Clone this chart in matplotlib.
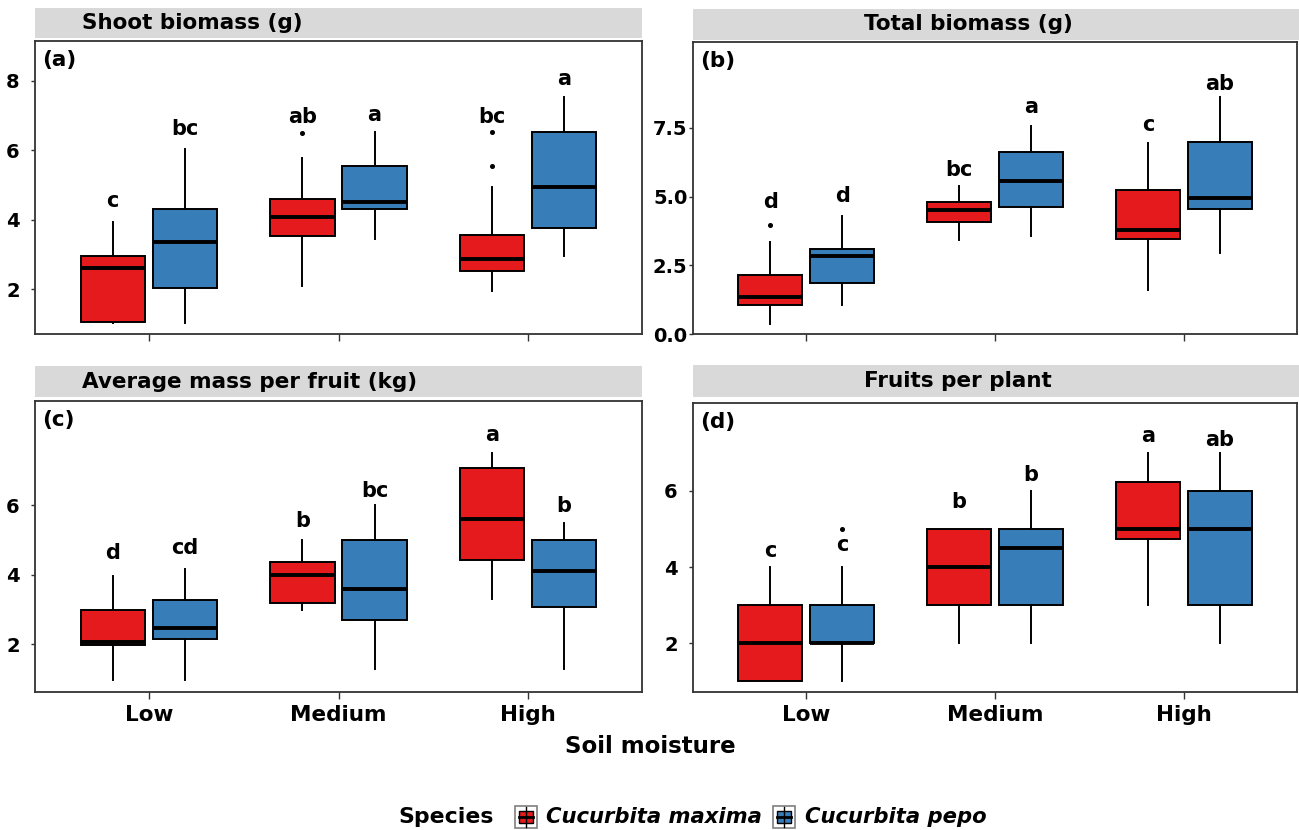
import matplotlib
matplotlib.use('Agg')
import matplotlib.pyplot as plt
from matplotlib.patches import Rectangle
from matplotlib.lines import Line2D

plt.rcParams['font.family'] = ['DejaVu Sans']
plt.rcParams['font.weight'] = 'bold'

# ---------------- data ----------------
categories = ['Low', 'Medium', 'High']
species = ['Cucurbita maxima', 'Cucurbita pepo']
colors = ['#E41A1C', '#377EB8']

# (a) Shoot biomass (g)
a_max_whislo = [1.01, 2.09, 1.95]
a_max_q1 = [1.05, 3.52, 2.52]
a_max_med = [2.60, 4.08, 2.86]
a_max_q3 = [2.95, 4.58, 3.56]
a_max_whishi = [3.92, 5.78, 4.94]
a_max_fliers = [[], [6.50], [5.54, 6.53]]
a_pepo_whislo = [1.01, 3.43, 2.95]
a_pepo_q1 = [2.03, 4.30, 3.76]
a_pepo_med = [3.34, 4.51, 4.94]
a_pepo_q3 = [4.29, 5.53, 6.52]
a_pepo_whishi = [6.03, 6.52, 7.52]
a_pepo_fliers = [[], [], []]
a_max_letters = ['c', 'ab', 'bc']
a_pepo_letters = ['bc', 'a', 'a']
a_max_letter_y = [4.37, 6.79, 6.77]
a_pepo_letter_y = [6.43, 6.84, 7.87]

# (b) Total biomass (g)
b_max_whislo = [0.37, 3.43, 1.59]
b_max_q1 = [1.06, 4.09, 3.46]
b_max_med = [1.33, 4.52, 3.80]
b_max_q3 = [2.15, 4.82, 5.25]
b_max_whishi = [3.34, 5.40, 6.95]
b_max_fliers = [[3.98], [], []]
b_pepo_whislo = [1.06, 3.55, 2.95]
b_pepo_q1 = [1.86, 4.61, 4.55]
b_pepo_med = [2.85, 5.56, 4.94]
b_pepo_q3 = [3.08, 6.62, 6.98]
b_pepo_whishi = [4.28, 7.56, 8.63]
b_pepo_fliers = [[], [], []]
b_max_letters = ['d', 'bc', 'c']
b_pepo_letters = ['d', 'a', 'ab']
b_max_letter_y = [4.57, 5.75, 7.39]
b_pepo_letter_y = [4.82, 8.06, 8.88]

# (c) Average mass per fruit (kg)
c_max_whislo = [0.98, 2.99, 3.30]
c_max_q1 = [1.98, 3.18, 4.44]
c_max_med = [2.08, 4.00, 5.61]
c_max_q3 = [2.99, 4.38, 7.06]
c_max_whishi = [3.97, 4.99, 7.50]
c_max_fliers = [[], [], []]
c_pepo_whislo = [0.98, 1.29, 1.29]
c_pepo_q1 = [2.15, 2.69, 3.07]
c_pepo_med = [2.47, 3.59, 4.10]
c_pepo_q3 = [3.28, 5.00, 5.00]
c_pepo_whishi = [4.17, 6.00, 5.50]
c_pepo_fliers = [[], [], []]
c_max_letters = ['d', 'b', 'a']
c_pepo_letters = ['cd', 'bc', 'b']
c_max_letter_y = [4.45, 5.37, 7.84]
c_pepo_letter_y = [4.60, 6.24, 5.82]

# (d) Fruits per plant
d_max_whislo = [1.0, 2.0, 3.0]
d_max_q1 = [1.0, 3.0, 4.74]
d_max_med = [2.0, 4.0, 5.0]
d_max_q3 = [3.0, 5.0, 6.23]
d_max_whishi = [4.0, 5.0, 7.0]
d_max_fliers = [[], [], []]
d_pepo_whislo = [1.0, 2.0, 2.0]
d_pepo_q1 = [2.0, 3.0, 3.0]
d_pepo_med = [2.0, 4.5, 5.0]
d_pepo_q3 = [3.0, 5.0, 6.0]
d_pepo_whishi = [4.0, 6.0, 7.0]
d_pepo_fliers = [[5.0], [], []]
d_max_letters = ['c', 'b', 'a']
d_pepo_letters = ['c', 'b', 'ab']
d_max_letter_y = [4.26, 5.55, 7.28]
d_pepo_letter_y = [4.42, 6.25, 7.19]

titles = ['Shoot biomass (g)', 'Total biomass (g)',
          'Average mass per fruit (kg)', 'Fruits per plant']
panel_tags = ['(a)', '(b)', '(c)', '(d)']
y_ticks = [[2, 4, 6, 8], [0.0, 2.5, 5.0, 7.5], [2, 4, 6], [2, 4, 6]]
y_ticklabels = [['2', '4', '6', '8'], ['0.0', '2.5', '5.0', '7.5'],
                ['2', '4', '6'], ['2', '4', '6']]
y_limits = [(0.705, 9.14), (0.0, 10.63), (0.63, 9.0), (0.72, 8.31)]
x_label = 'Soil moisture'
legend_title = 'Species'

panels = [
    (a_max_whislo, a_max_q1, a_max_med, a_max_q3, a_max_whishi, a_max_fliers,
     a_pepo_whislo, a_pepo_q1, a_pepo_med, a_pepo_q3, a_pepo_whishi, a_pepo_fliers,
     a_max_letters, a_pepo_letters, a_max_letter_y, a_pepo_letter_y),
    (b_max_whislo, b_max_q1, b_max_med, b_max_q3, b_max_whishi, b_max_fliers,
     b_pepo_whislo, b_pepo_q1, b_pepo_med, b_pepo_q3, b_pepo_whishi, b_pepo_fliers,
     b_max_letters, b_pepo_letters, b_max_letter_y, b_pepo_letter_y),
    (c_max_whislo, c_max_q1, c_max_med, c_max_q3, c_max_whishi, c_max_fliers,
     c_pepo_whislo, c_pepo_q1, c_pepo_med, c_pepo_q3, c_pepo_whishi, c_pepo_fliers,
     c_max_letters, c_pepo_letters, c_max_letter_y, c_pepo_letter_y),
    (d_max_whislo, d_max_q1, d_max_med, d_max_q3, d_max_whishi, d_max_fliers,
     d_pepo_whislo, d_pepo_q1, d_pepo_med, d_pepo_q3, d_pepo_whishi, d_pepo_fliers,
     d_max_letters, d_pepo_letters, d_max_letter_y, d_pepo_letter_y),
]

# ---------------- layout (pixels) ----------------
W, H = 1299, 830
fig = plt.figure(figsize=(W / 100, H / 100), dpi=100)
fig.patch.set_facecolor('white')


def fx(x):
    return x / W


def fy(y):
    return 1 - y / H


# axes boxes: left, top, right, bottom in pixels
ax_px = [(35, 41, 642, 334), (693, 42, 1297, 334),
         (35, 401, 642, 692), (693, 403, 1297, 692)]
strip_px = [(35, 8, 642, 38), (693, 9, 1299, 40),
            (35, 366, 642, 397), (693, 365, 1299, 397)]
title_x = [82, 864, 82, 864]

offset = 0.19
box_w = 0.34
frame_col = '#333333'

for i, p in enumerate(panels):
    (mwl, mq1, mmed, mq3, mwh, mfl,
     pwl, pq1, pmed, pq3, pwh, pfl,
     mlet, plet, mly, ply) = p
    l, t, r, b = ax_px[i]
    ax = fig.add_axes([fx(l), fy(b), (r - l) / W, (b - t) / H])
    pos = list(range(1, len(categories) + 1))
    for s, (wl, q1, med, q3, wh, fl, col) in enumerate([
            (mwl, mq1, mmed, mq3, mwh, mfl, colors[0]),
            (pwl, pq1, pmed, pq3, pwh, pfl, colors[1])]):
        stats = []
        for k in range(len(categories)):
            stats.append(dict(med=med[k], q1=q1[k], q3=q3[k],
                              whislo=wl[k], whishi=wh[k], fliers=fl[k],
                              label=categories[k]))
        dx = -offset if s == 0 else offset
        ax.bxp(stats, positions=[x + dx for x in pos], widths=box_w,
               patch_artist=True, showcaps=False, manage_ticks=False,
               boxprops=dict(facecolor=col, edgecolor='black', linewidth=1.4),
               medianprops=dict(color='black', linewidth=2.8,
                                solid_capstyle='butt'),
               whiskerprops=dict(color='black', linewidth=1.4),
               flierprops=dict(marker='o', markersize=2.6,
                               markerfacecolor='black',
                               markeredgecolor='black'))
        lets = mlet if s == 0 else plet
        lys = mly if s == 0 else ply
        for k in range(len(categories)):
            ax.text(pos[k] + dx, lys[k], lets[k], ha='center',
                    va='baseline', fontsize=15, fontweight='bold',
                    color='black')
    ax.set_xlim(0.4, 3.6)
    ax.set_ylim(*y_limits[i])
    ax.set_xticks(pos)
    if i >= 2:
        ax.set_xticklabels(categories, fontsize=15.5, fontweight='bold')
    else:
        ax.set_xticklabels([])
    ax.set_yticks(y_ticks[i])
    ax.set_yticklabels(y_ticklabels[i], fontsize=14, fontweight='bold')
    ax.tick_params(axis='x', length=5, width=1.0, color=frame_col, pad=4)
    ax.tick_params(axis='y', length=3, width=1.0, color=frame_col,
                   pad=(1 if i == 1 else 8))
    for sp in ax.spines.values():
        sp.set_color(frame_col)
        sp.set_linewidth(1.3)
    ax.annotate(panel_tags[i], xy=(0, 1), xycoords='axes fraction',
                xytext=(7, -9), textcoords='offset pixels',
                ha='left', va='top', fontsize=15.5, fontweight='bold')

    # strip
    sl, st, sr, sb = strip_px[i]
    fig.add_artist(Rectangle((fx(sl), fy(sb)), (sr - sl) / W, (sb - st) / H,
                             transform=fig.transFigure, facecolor='#D9D9D9',
                             edgecolor='none', zorder=0))
    fig.text(fx(title_x[i]), fy((st + sb) / 2), titles[i], ha='left',
             va='center', fontsize=15.5, fontweight='bold', color='black')

# x-axis title
fig.text(fx(650), fy(746), x_label, ha='center', va='center',
         fontsize=16.5, fontweight='bold')

# legend
fig.text(fx(398), fy(817), legend_title, ha='left', va='center',
         fontsize=15.8, fontweight='bold')
key_x = [515, 773]
name_x = [546, 805]
for s in range(len(species)):
    kx = key_x[s]
    ky0, ky1 = 806, 828
    fig.add_artist(Rectangle((fx(kx), fy(ky1)), 22 / W, (ky1 - ky0) / H,
                             transform=fig.transFigure, facecolor='white',
                             edgecolor='#7F7F7F', linewidth=1.2))
    # whisker
    fig.add_artist(Line2D([fx(kx + 11), fx(kx + 11)], [fy(ky0 + 1), fy(ky1 - 1)],
                          transform=fig.transFigure, color='black', lw=1.0))
    fig.add_artist(Rectangle((fx(kx + 4), fy(ky1 - 5)), 14 / W, 12 / H,
                             transform=fig.transFigure, facecolor=colors[s],
                             edgecolor='black', linewidth=1.0))
    fig.add_artist(Line2D([fx(kx + 4), fx(kx + 18)], [fy(817), fy(817)],
                          transform=fig.transFigure, color='black', lw=2.0))
    fig.text(fx(name_x[s]), fy(817), species[s], ha='left', va='center',
             fontsize=15.2, fontweight='bold', fontstyle='italic')

fig.savefig('out.png', dpi=100, facecolor='white')
